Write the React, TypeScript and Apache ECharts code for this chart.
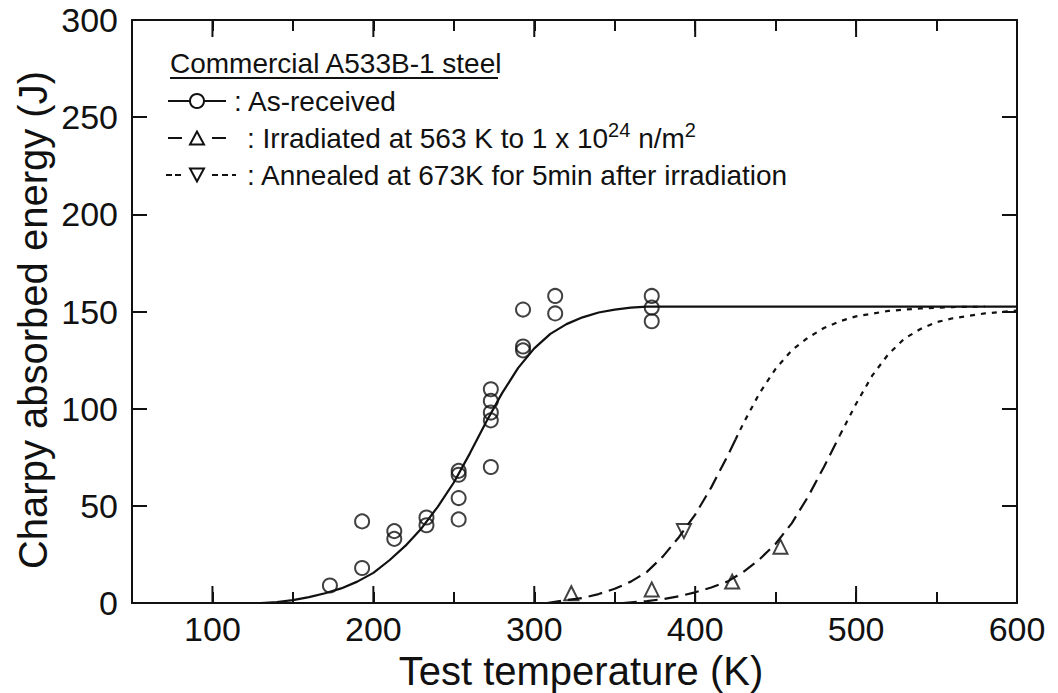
import React, { useEffect, useRef } from "react";
import * as echarts from "echarts";

// Measured Charpy points: [test temperature (K), absorbed energy (J)]
const asReceivedPoints: [number, number][] = [
  [173, 9],
  [193, 42], [193, 18],
  [213, 37], [213, 33],
  [233, 44], [233, 40],
  [253, 68], [253, 66], [253, 54], [253, 43],
  [273, 110], [273, 104], [273, 98], [273, 94], [273, 70],
  [293, 151], [293, 132], [293, 130],
  [313, 158], [313, 149],
  [373, 158], [373, 152], [373, 145],
];
const irradiatedPoints: [number, number][] = [
  [323, 5], [373, 7], [423, 11], [453, 29],
];
const annealedPoints: [number, number][] = [[393, 37]];

// Fitted transition curves
const asReceivedCurve: [number, number][] = [
  [130, 0], [140, 0.5], [150, 1.5], [160, 3], [170, 5], [180, 7.5], [190, 11],
  [200, 15.5], [210, 22], [220, 29.5], [230, 38.5], [240, 49.5], [250, 62],
  [260, 77], [270, 93], [280, 108], [290, 121], [300, 131], [310, 138.5],
  [320, 143.5], [330, 147], [340, 149.5], [350, 151], [360, 152], [370, 152.5],
  [600, 152.5],
];
const annealedCurveLow: [number, number][] = [
  [308, 0], [320, 1.5], [330, 2.6], [340, 4.6], [350, 7.3], [360, 11], [370, 16],
  [380, 24], [390, 34], [400, 45.5], [410, 59.5], [420, 75.5], [425, 84],
];
const annealedCurveHigh: [number, number][] = [
  [425, 84], [430, 92.5], [440, 108], [450, 120.5], [460, 130], [470, 136.5],
  [480, 141.5], [490, 145], [500, 147.5], [520, 150.3], [540, 151.6],
  [560, 152.3], [580, 152.5],
];
const irradiatedCurveLow: [number, number][] = [
  [355, 0], [370, 1], [380, 2], [390, 3.5], [400, 5.5], [410, 8], [420, 11],
  [430, 16], [440, 22.5], [450, 30.5], [460, 41], [470, 54.5], [480, 70], [490, 86.5],
];
const irradiatedCurveHigh: [number, number][] = [
  [490, 86.5], [500, 102.5], [510, 117], [520, 128], [530, 136], [540, 141],
  [550, 144.5], [560, 146.5], [580, 149], [600, 150.5],
];

// Long tick marks on the hundreds of the temperature axis
const majorTickValues = [100, 200, 300, 400, 500, 600];

const INK = "#111111";
const FONT = "'Liberation Sans', Arial, Helvetica, sans-serif";
const LEGEND_FS = 28;

export default function App() {
  const ref = useRef<HTMLDivElement>(null);

  useEffect(() => {
    const chart = echarts.init(ref.current!, null, { renderer: "svg" });

    const axisLine = { show: true, onZero: false, lineStyle: { color: INK, width: 2 } };
    const xTick = { show: true, inside: true, length: 11, lineStyle: { color: INK, width: 2 } };
    const yTick = { show: true, inside: true, length: 15, lineStyle: { color: INK, width: 2 } };

    const curve = (data: [number, number][], dash: any) => ({
      type: "line",
      data,
      smooth: false,
      symbol: "none",
      silent: true,
      lineStyle: { color: INK, width: 2.2, type: dash, join: "round", cap: "butt" },
      z: 2,
    });

    const markers = (data: [number, number][], symbol: string, size: number, rotate = 0) => ({
      type: "scatter",
      data,
      symbol,
      symbolSize: size,
      symbolRotate: rotate,
      itemStyle: { color: "rgba(0,0,0,0)", borderColor: INK, borderWidth: 2 },
      z: 4,
    });

    const rowX = 168;
    const symX = 197;
    const tri = (cx: number, cy: number, up: boolean) => {
      const h = 6.5;
      return up
        ? [[cx, cy - h], [cx - 7, cy + h], [cx + 7, cy + h]]
        : [[cx, cy + h], [cx - 7, cy - h], [cx + 7, cy - h]];
    };
    const rowText = (y: number, text: string, x: number) => ({
      type: "text",
      x,
      y,
      style: { text, fontSize: LEGEND_FS, fontFamily: FONT, fill: INK, align: "left", verticalAlign: "middle" },
    });

    chart.setOption({
      animation: false,
      backgroundColor: "#ffffff",
      textStyle: { fontFamily: FONT, color: INK },
      grid: { left: 132, top: 20, width: 885, height: 583, containLabel: false },
      xAxis: [
        {
          type: "value",
          min: 50,
          max: 600,
          interval: 50,
          position: "bottom",
          axisLine,
          axisTick: xTick,
          splitLine: { show: false },
          axisLabel: {
            formatter: (v: number) => (v % 100 === 0 ? String(v) : ""),
            fontSize: 34,
            color: INK,
            fontFamily: FONT,
            margin: 9,
          },
        },
        {
          type: "value",
          min: 50,
          max: 600,
          interval: 50,
          position: "top",
          axisLine,
          axisTick: xTick,
          splitLine: { show: false },
          axisLabel: { show: false },
        },
      ],
      yAxis: [
        {
          type: "value",
          min: 0,
          max: 300,
          interval: 50,
          position: "left",
          axisLine,
          axisTick: yTick,
          splitLine: { show: false },
          axisLabel: { fontSize: 34, color: INK, fontFamily: FONT, margin: 14 },
        },
        {
          type: "value",
          min: 0,
          max: 300,
          interval: 50,
          position: "right",
          axisLine,
          axisTick: yTick,
          splitLine: { show: false },
          axisLabel: { show: false },
        },
      ],
      series: [
        curve(asReceivedCurve, "solid"),
        curve(annealedCurveLow, [14, 7]),
        curve(annealedCurveHigh, [5, 6]),
        curve(irradiatedCurveLow, [14, 7]),
        curve(irradiatedCurveHigh, [5, 6]),
        markers(asReceivedPoints, "circle", 14),
        markers(irradiatedPoints, "triangle", 14),
        markers(annealedPoints, "triangle", 14, 180),
        {
          type: "custom",
          silent: true,
          data: majorTickValues.map((v) => [v]),
          renderItem: (_params: any, api: any) => {
            const b = api.coord([api.value(0), 0]);
            const t = api.coord([api.value(0), 300]);
            const s = { stroke: INK, lineWidth: 2 };
            return {
              type: "group",
              children: [
                { type: "line", shape: { x1: b[0], y1: b[1], x2: b[0], y2: b[1] - 17 }, style: s },
                { type: "line", shape: { x1: t[0], y1: t[1], x2: t[0], y2: t[1] + 17 }, style: s },
              ],
            };
          },
          z: 3,
        },
      ],
      graphic: [
        // Axis titles
        {
          type: "text",
          x: 581,
          y: 671,
          style: {
            text: "Test temperature (K)",
            fontSize: 40,
            fontFamily: FONT,
            fill: INK,
            align: "center",
            verticalAlign: "middle",
            lineHeight: 40,
          },
        },
        {
          type: "text",
          x: 33,
          y: 320,
          rotation: Math.PI / 2,
          style: {
            text: "Charpy absorbed energy (J)",
            fontSize: 40,
            fontFamily: FONT,
            fill: INK,
            align: "center",
            verticalAlign: "middle",
          },
        },
        // Legend
        {
          type: "text",
          x: 170,
          y: 63,
          style: {
            text: "Commercial A533B-1 steel",
            fontSize: LEGEND_FS,
            fontFamily: FONT,
            fill: INK,
            align: "left",
            verticalAlign: "middle",
          },
        },
        {
          type: "line",
          shape: { x1: 170, y1: 78, x2: 498, y2: 78 },
          style: { stroke: INK, lineWidth: 1.8 },
        },
        {
          type: "line",
          shape: { x1: rowX, y1: 101, x2: 226, y2: 101 },
          style: { stroke: INK, lineWidth: 2 },
        },
        {
          type: "circle",
          shape: { cx: symX, cy: 101, r: 7 },
          style: { fill: "#fff", stroke: INK, lineWidth: 2 },
        },
        rowText(101, ": As-received", 234),
        {
          type: "line",
          shape: { x1: rowX, y1: 138, x2: 182, y2: 138 },
          style: { stroke: INK, lineWidth: 2 },
        },
        {
          type: "line",
          shape: { x1: 212, y1: 138, x2: 226, y2: 138 },
          style: { stroke: INK, lineWidth: 2 },
        },
        {
          type: "polygon",
          shape: { points: tri(symX, 138, true) },
          style: { fill: "#fff", stroke: INK, lineWidth: 2 },
        },
        {
          type: "text",
          x: 247,
          y: 138,
          style: {
            text: "{n|: Irradiated at 563 K to 1 x 10}{s|24}{n| n/m}{s|2}",
            align: "left",
            verticalAlign: "middle",
            fill: INK,
            rich: {
              n: { fontSize: LEGEND_FS, fontFamily: FONT, lineHeight: 36, verticalAlign: "middle", fill: INK },
              s: { fontSize: 20, fontFamily: FONT, lineHeight: 14, verticalAlign: "top", fill: INK },
            },
          },
        },
        {
          type: "line",
          shape: { x1: 166, y1: 175, x2: 182, y2: 175 },
          style: { stroke: INK, lineWidth: 2, lineDash: [6, 3] },
        },
        {
          type: "line",
          shape: { x1: 212, y1: 175, x2: 236, y2: 175 },
          style: { stroke: INK, lineWidth: 2, lineDash: [6, 4] },
        },
        {
          type: "polygon",
          shape: { points: tri(symX, 175, false) },
          style: { fill: "#fff", stroke: INK, lineWidth: 2 },
        },
        rowText(175, ": Annealed at 673K for 5min after irradiation", 247),
      ],
    });

    return () => chart.dispose();
  }, []);

  return (
    <div
      ref={ref}
      style={{ position: "absolute", left: 0, top: 0, width: 1058, height: 693, background: "#fff" }}
    />
  );
}
